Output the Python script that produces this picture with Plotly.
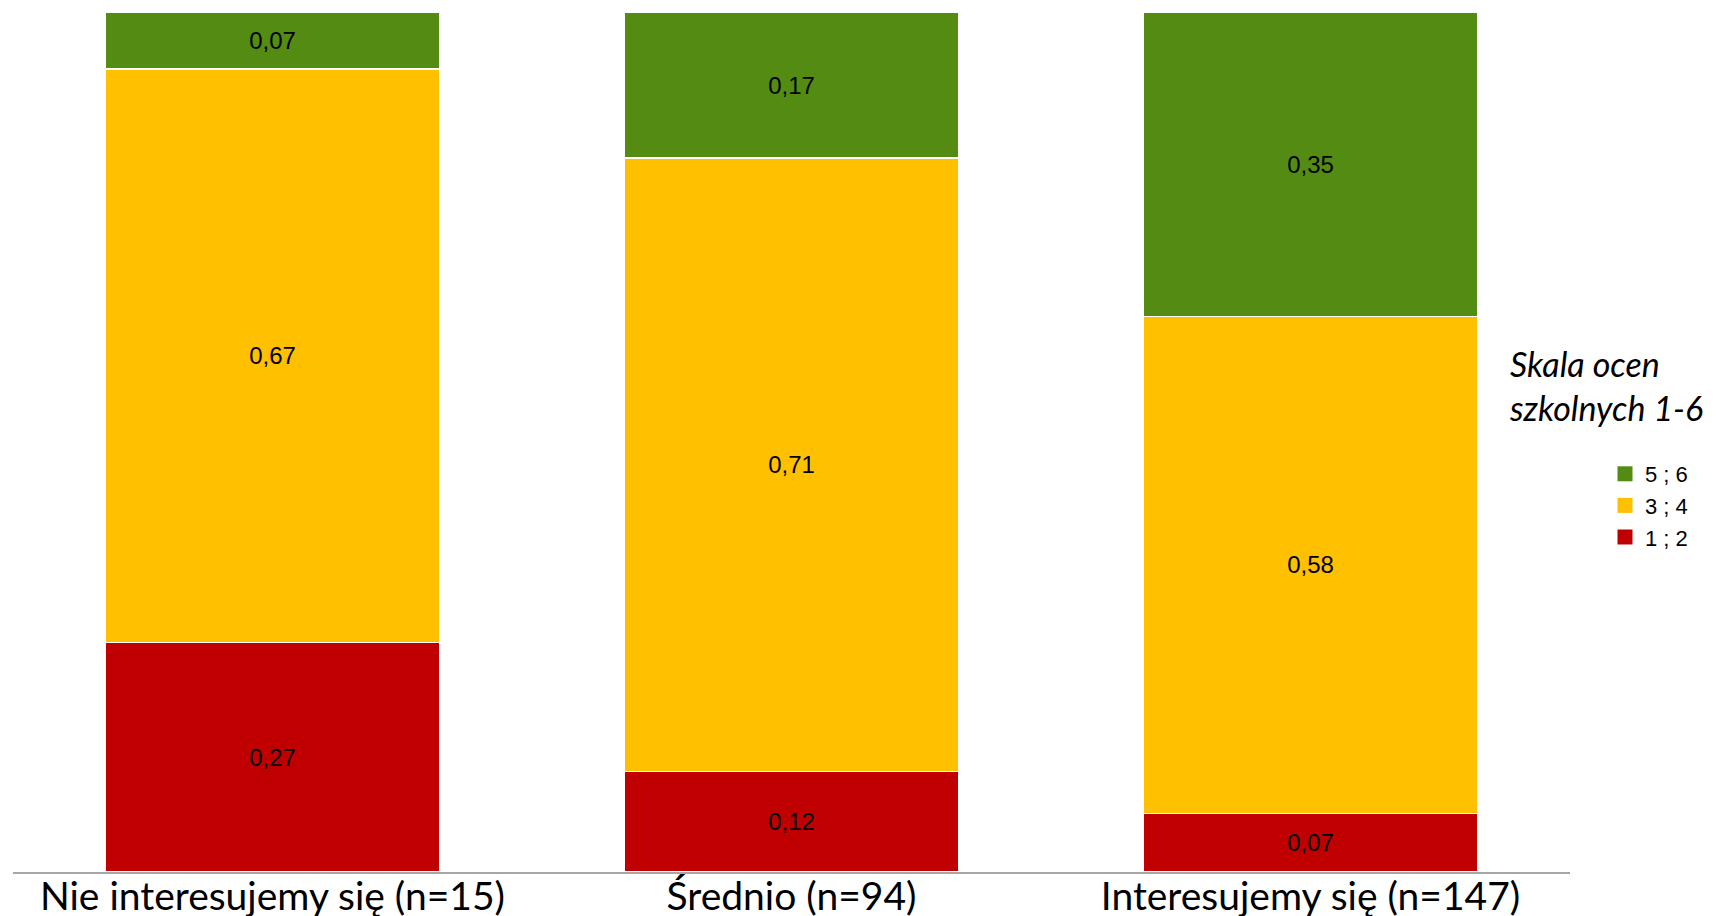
import plotly.graph_objects as go

categories = ["Nie interesujemy się (n=15)", "Średnio (n=94)", "Interesujemy się (n=147)"]
low_12 = [0.267, 0.117, 0.068]
mid_34 = [0.667, 0.713, 0.578]
high_56 = [0.066, 0.170, 0.354]
series_names = ["1 ; 2", "3 ; 4", "5 ; 6"]
colors = ["#C00000", "#FFC000", "#548B13"]

fig = go.Figure()
for name, vals, col in zip(series_names, [low_12, mid_34, high_56], colors):
    fig.add_trace(go.Bar(
        x=categories, y=vals, name=name, showlegend=False,
        marker=dict(color=col, line=dict(color="white", width=1.5)),
        texttemplate="%{y:.2f}", textposition="inside", insidetextanchor="middle",
        textangle=0, constraintext="none",
        insidetextfont=dict(family="Liberation Sans, Arial", size=24, color="black"),
    ))
# legend entries with larger square swatches
for name, col in zip(series_names, colors):
    fig.add_trace(go.Scatter(
        x=[None], y=[None], mode="markers", name=name,
        marker=dict(symbol="square", size=15, color=col),
    ))

W, H = 1716, 916
PL, PR, PT, PB = 13, 146, 12, 44
pw, ph = W - PL - PR, H - PT - PB

fig.update_layout(
    width=W, height=H,
    barmode="stack", bargap=0.357,
    separators=", ",
    plot_bgcolor="white", paper_bgcolor="white",
    margin=dict(l=PL, r=PR, t=PT, b=PB, pad=0),
    xaxis=dict(showline=True, linecolor="#A6A6A6", linewidth=2, ticks="",
               tickfont=dict(family="Lato", size=39, color="black"), automargin=False,
               ticklabelstandoff=-11),
    yaxis=dict(visible=False, range=[0, 1], fixedrange=True),
    legend=dict(traceorder="reversed", x=(1605 - PL) / pw, xanchor="left",
                y=1 - (453 - PT) / ph, yanchor="top",
                font=dict(family="Liberation Sans, Arial", size=22, color="black"),
                bgcolor="rgba(0,0,0,0)"),
    annotations=[dict(text="Skala ocen<br>szkolnych 1-6", xref="paper", yref="paper",
                      x=(1507 - PL) / pw, y=1 - (341 - PT) / ph, xanchor="left", yanchor="top",
                      align="left", showarrow=False,
                      font=dict(family="Lato", size=34, color="black", style="italic"))],
)
fig.write_html("out.html", config={"displayModeBar": False},
               post_script="document.body.style.margin='0';document.body.style.overflow='hidden';")
